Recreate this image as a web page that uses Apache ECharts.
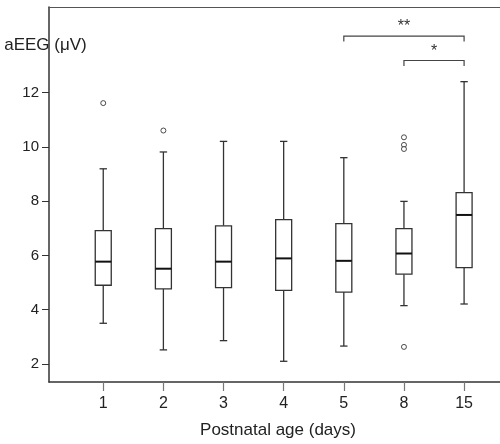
<!DOCTYPE html>
<html><head><meta charset="utf-8">
<script src="https://cdn.jsdelivr.net/npm/echarts@6/dist/echarts.min.js"></script>
<style>html,body{margin:0;padding:0;background:#fff}#c{width:500px;height:444px}</style>
</head><body><div id="c"></div>
<script>
// Categories (postnatal age in days)
var categories = ['1', '2', '3', '4', '5', '8', '15'];
// Box statistics per category: [lowerWhisker, Q1, median, Q3, upperWhisker]
var lowerWhisker = [3.50, 2.52, 2.86, 2.10, 2.66, 4.15, 4.21];
var q1Values     = [4.90, 4.77, 4.81, 4.71, 4.65, 5.31, 5.55];
var medianValues = [5.77, 5.51, 5.77, 5.89, 5.80, 6.07, 7.49];
var q3Values     = [6.91, 6.99, 7.09, 7.32, 7.17, 6.99, 8.31];
var upperWhisker = [9.19, 9.81, 10.20, 10.20, 9.60, 7.99, 12.40];
// Outliers: [category index (1-based), value]
var outliers = [[1, 11.61], [2, 10.60], [6, 10.35], [6, 10.07], [6, 9.92], [6, 2.63]];
// Y tick labels
var yTicks = [2, 4, 6, 8, 10, 12];
// Significance brackets: [from category (1-based), to category, bracket level, label]
var bracketFrom = [5, 6];
var bracketTo = [7, 7];
var bracketLevel = [14.08, 13.18];
var bracketLabel = ['**', '*'];

var xPositions = categories.map(function (c, i) { return i + 1; });
var boxData = categories.map(function (c, i) {
  return [i + 1, lowerWhisker[i], q1Values[i], medianValues[i], q3Values[i], upperWhisker[i]];
});
var bracketData = bracketFrom.map(function (f, i) { return [f, bracketTo[i], bracketLevel[i], i]; });

var FONT = 'Liberation Sans, Arial, sans-serif';
var AX = '#333';
var xMin = 0.098, xMax = 7.597, yMin = 1.337, yMax = 15.15;

var chart = echarts.init(document.getElementById('c'), null, {renderer: 'canvas'});
chart.setOption({
  animation: false,
  grid: {left: 49, right: 0, top: 7, bottom: 62, containLabel: false},
  xAxis: [{
    type: 'value', min: xMin, max: xMax, position: 'bottom',
    name: 'Postnatal age (days)', nameLocation: 'middle', nameGap: 40,
    nameTextStyle: {fontFamily: FONT, fontSize: 17, color: '#222', padding: [0, 0, 0, 7]},
    axisLine: {show: true, lineStyle: {color: AX, width: 1.5}},
    axisTick: {show: true, length: 9, customValues: xPositions, lineStyle: {color: '#777', width: 1.2}},
    axisLabel: {show: true, customValues: xPositions, margin: 14, fontFamily: FONT, fontSize: 16, color: '#222',
      formatter: function (v) { return categories[Math.round(v) - 1]; }},
    splitLine: {show: false}
  }, {
    type: 'value', min: xMin, max: xMax, position: 'top',
    axisLine: {show: true, lineStyle: {color: '#555', width: 1.2}},
    axisTick: {show: false}, axisLabel: {show: false}, splitLine: {show: false}
  }],
  yAxis: {
    type: 'value', min: yMin, max: yMax,
    name: 'aEEG (μV)', nameLocation: 'end', nameGap: -49,
    nameTextStyle: {fontFamily: FONT, fontSize: 17, color: '#222', backgroundColor: '#fff', padding: [2, 7, 2, 0], align: 'center'},
    axisLine: {show: true, lineStyle: {color: AX, width: 1.5}},
    axisTick: {show: true, length: 7, customValues: yTicks, lineStyle: {color: AX, width: 1}},
    axisLabel: {show: true, customValues: yTicks, margin: 10, fontFamily: FONT, fontSize: 15, color: '#222'},
    splitLine: {show: false}
  },
  series: [{
    type: 'custom',
    data: boxData,
    encode: {x: 0, y: [1, 2, 3, 4, 5]},
    renderItem: function (params, api) {
      var x = api.value(0);
      var pLow = api.coord([x, api.value(1)]);
      var pQ1 = api.coord([x, api.value(2)]);
      var pMed = api.coord([x, api.value(3)]);
      var pQ3 = api.coord([x, api.value(4)]);
      var pHigh = api.coord([x, api.value(5)]);
      var cx = pMed[0];
      var hw = 8, cw = 3.7;
      var ls = {stroke: '#333', lineWidth: 1.3, fill: null};
      return {type: 'group', children: [
        {type: 'line', shape: {x1: cx, y1: pQ3[1], x2: cx, y2: pHigh[1]}, style: ls},
        {type: 'line', shape: {x1: cx, y1: pQ1[1], x2: cx, y2: pLow[1]}, style: ls},
        {type: 'line', shape: {x1: cx - cw, y1: pHigh[1], x2: cx + cw, y2: pHigh[1]}, style: ls},
        {type: 'line', shape: {x1: cx - cw, y1: pLow[1], x2: cx + cw, y2: pLow[1]}, style: ls},
        {type: 'rect', shape: {x: cx - hw, y: pQ3[1], width: 2 * hw, height: pQ1[1] - pQ3[1]}, style: {stroke: '#333', lineWidth: 1.3, fill: '#fff'}},
        {type: 'line', shape: {x1: cx - hw, y1: pMed[1], x2: cx + hw, y2: pMed[1]}, style: {stroke: '#111', lineWidth: 2}}
      ]};
    }
  }, {
    type: 'scatter',
    data: outliers,
    symbol: 'circle', symbolSize: 5,
    itemStyle: {color: '#fff', borderColor: '#222', borderWidth: 1}
  }, {
    type: 'custom',
    data: bracketData,
    encode: {x: [0, 1], y: 2},
    clip: false,
    renderItem: function (params, api) {
      var a = api.coord([api.value(0), api.value(2)]);
      var b = api.coord([api.value(1), api.value(2)]);
      var drop = 5.5;
      return {type: 'group', children: [
        {type: 'polyline', shape: {points: [[a[0], a[1] + drop], [a[0], a[1]], [b[0], b[1]], [b[0], b[1] + drop]]},
          style: {stroke: '#444', lineWidth: 1.2, fill: null}},
        {type: 'text', style: {text: bracketLabel[api.value(3)], x: (a[0] + b[0]) / 2, y: a[1] - 1,
          align: 'center', verticalAlign: 'bottom', fontFamily: FONT, fontSize: 16, fill: '#333'}}
      ]};
    }
  }]
});
</script></body></html>
